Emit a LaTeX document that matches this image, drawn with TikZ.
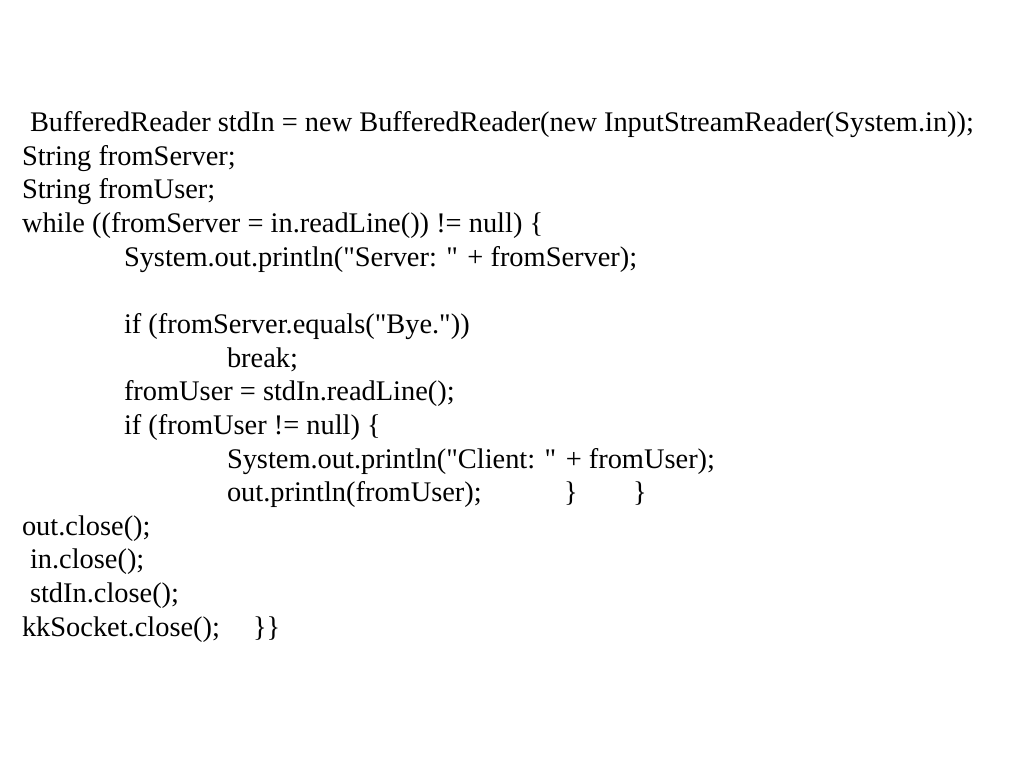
\documentclass[tikz,border=0pt]{standalone}
\usepackage{fontspec}
\setmainfont{Liberation Serif}
\begin{document}
\begin{tikzpicture}[x=1pt,y=-1pt,
  codeline/.style={anchor=base west,inner sep=0pt,outer sep=0pt,font=\fontsize{28.4}{28.4}\selectfont}]
\useasboundingbox (0,0) rectangle (1024,768);
\fill[white] (0,0) rectangle (1024,768);
\node[codeline] (l1) at (30,131.5) {BufferedReader stdIn = new BufferedReader(new InputStreamReader(System.in));};
\node[codeline] (l2) at (22,165.1) {String fromServer;};
\node[codeline] (l3) at (22,198.8) {String fromUser;};
\node[codeline] (l4) at (22,232.4) {while ((fromServer = in.readLine()) != null) \{};
\node[codeline] (l5) at (124,266.1) {System.out.println(\textquotedbl Server: \textquotedbl{} + fromServer);};
\node[codeline] (l7) at (124,333.4) {if (fromServer.equals(\textquotedbl Bye.\textquotedbl))};
\node[codeline] (l8) at (227,367) {break;};
\node[codeline] (l9) at (124,400.7) {fromUser = stdIn.readLine();};
\node[codeline] (l10) at (124,434.3) {if (fromUser != null) \{};
\node[codeline] (l11) at (227,468) {System.out.println(\textquotedbl Client: \textquotedbl{} + fromUser);};
\node[codeline] (l12) at (227,501.6) {out.println(fromUser);};
\node[codeline] (b1) at (564,501.6) {\}};
\node[codeline] (b2) at (633,501.6) {\}};
\node[codeline] (l13) at (22,535.3) {out.close();};
\node[codeline] (l14) at (30,568.9) {in.close();};
\node[codeline] (l15) at (30,602.6) {stdIn.close();};
\node[codeline] (l16) at (22,636.2) {kkSocket.close();};
\node[codeline] (b3) at (253,636.2) {\}\}};
\end{tikzpicture}
\end{document}
